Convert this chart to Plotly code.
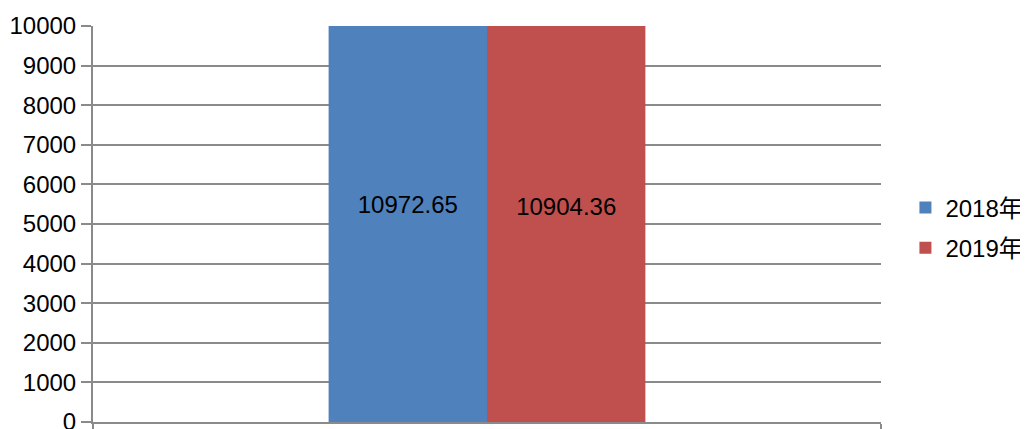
import plotly.graph_objects as go

categories = [""]
series_names = ["2018年", "2019年"]
values_2018 = [10972.65]
values_2019 = [10904.36]
colors = ["#4F81BD", "#C0504D"]
y_ticks = [0, 1000, 2000, 3000, 4000, 5000, 6000, 7000, 8000, 9000, 10000]
y_tick_labels = [str(v) for v in y_ticks]

FONT = "Liberation Sans, Noto Sans CJK SC, sans-serif"

fig = go.Figure()
for name, vals, col in zip(series_names, [values_2018, values_2019], colors):
    fig.add_trace(go.Bar(
        x=categories, y=vals, name=name, legendgroup=name,
        marker=dict(color=col, line=dict(width=0)),
        text=[f"{v:.2f}" for v in vals],
        textposition="inside", insidetextanchor="middle", textangle=0,
        textfont=dict(family=FONT, size=24, color="#000000"),
        constraintext="none",
    ))

fig.update_layout(
    width=1020, height=421,
    margin=dict(l=85, r=147, t=18, b=7, autoexpand=False),
    paper_bgcolor="white", plot_bgcolor="white",
    barmode="group", bargap=0.598, bargroupgap=0,
    font=dict(family=FONT, size=24, color="#000000"),
    showlegend=True,
    legend=dict(x=1.031, y=0.49, xanchor="left", yanchor="middle",
                font=dict(family=FONT, size=24), tracegroupgap=6,
                itemwidth=30),
    uniformtext=dict(mode=False),
)
fig.update_yaxes(
    range=[0, 10000], tickvals=y_ticks, ticktext=y_tick_labels, showgrid=True,
    gridcolor="#8A8A8A", gridwidth=1.5,
    showline=True, linecolor="#8A8A8A", linewidth=2,
    ticks="outside", ticklen=10, tickcolor="#8A8A8A", tickwidth=1.5,
    tickfont=dict(family=FONT, size=24), zeroline=False, automargin=False,
    ticklabeloverflow="allow",
)
fig.update_xaxes(
    showline=True, linecolor="#8A8A8A", linewidth=2,
    ticks="outside", tickson="boundaries", ticklen=7, tickcolor="#8A8A8A",
    tickwidth=1.5, showticklabels=False, showgrid=False, automargin=False,
)
fig.write_html("out.html")
